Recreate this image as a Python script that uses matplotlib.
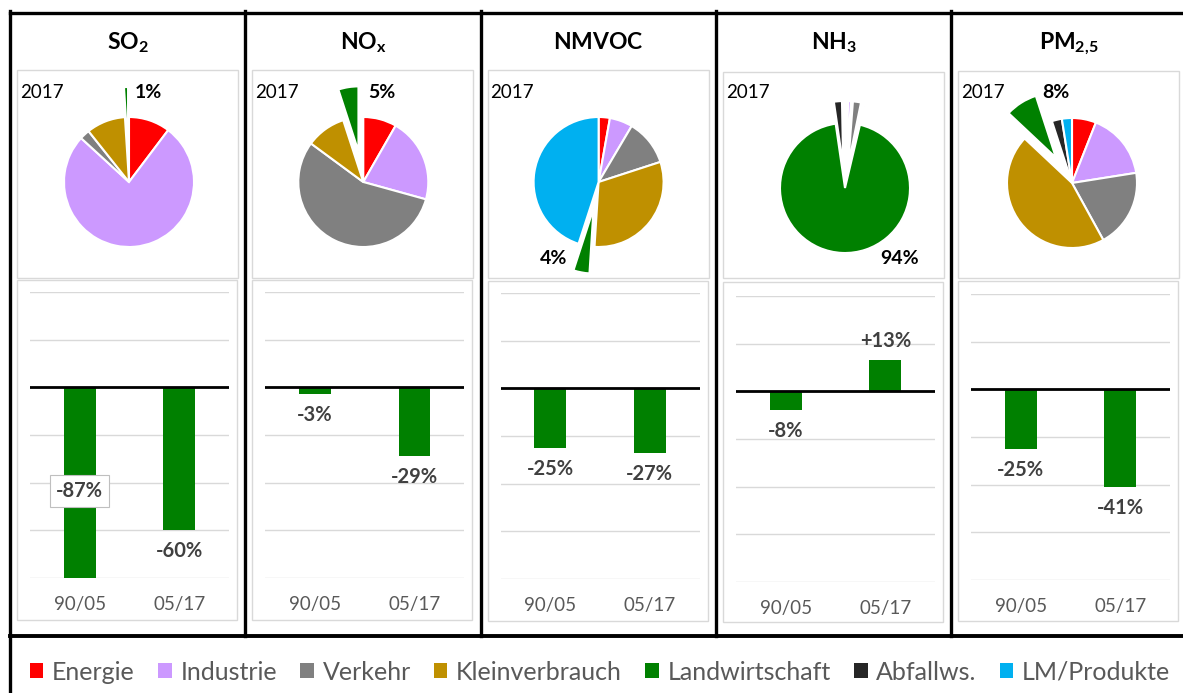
import matplotlib
matplotlib.use('Agg')
import matplotlib.pyplot as plt
from matplotlib.patches import Rectangle, Patch
from matplotlib.lines import Line2D

# ---------------- data ----------------
sectors = ['Energie', 'Industrie', 'Verkehr', 'Kleinverbrauch',
           'Landwirtschaft', 'Abfallws.', 'LM/Produkte']
pollutants = ['SO2', 'NOx', 'NMVOC', 'NH3', 'PM2,5']
pie_year = '2017'

share_so2 = [10.3, 76.5, 2.5, 9.7, 1.0, 0.0, 0.0]
share_nox = [8.3, 21.0, 55.8, 9.9, 5.0, 0.0, 0.0]
share_nmvoc = [2.8, 5.7, 11.5, 31.0, 4.0, 0.0, 45.0]
share_nh3 = [0.5, 0.7, 2.0, 0.5, 94.0, 2.0, 0.3]
share_pm25 = [6.0, 16.5, 19.5, 45.0, 8.0, 2.5, 2.5]

periods = ['90/05', '05/17']
change_so2 = [-87, -60]
change_nox = [-3, -29]
change_nmvoc = [-25, -27]
change_nh3 = [-8, 13]
change_pm25 = [-25, -41]

shares = [share_so2, share_nox, share_nmvoc, share_nh3, share_pm25]
changes = [change_so2, change_nox, change_nmvoc, change_nh3, change_pm25]

# ---------------- style ----------------
W, H, DPI = 1183, 693, 100
sector_colors = ['#FF0000', '#CC99FF', '#808080', '#BF9000',
                 '#008000', '#262626', '#00B0F0']
bar_color = '#008000'
box_color = '#D9D9D9'
titles = [r'$\mathbf{SO_2}$', r'$\mathbf{NO_x}$', r'$\mathbf{NMVOC}$',
          r'$\mathbf{NH_3}$', r'$\mathbf{PM_{2{,}5}}$']

plt.rcParams['font.family'] = ['Lato', 'DejaVu Sans']
plt.rcParams['mathtext.fontset'] = 'custom'
plt.rcParams['mathtext.rm'] = 'Lato'
plt.rcParams['mathtext.bf'] = 'Lato:bold'
plt.rcParams['mathtext.it'] = 'Lato:italic'

# layout (pixels, origin top-left)
panel_left = [10, 245.3, 480.6, 716, 951]
panel_w = 235.3
panel_dy = [0, 0, 1, 4, 2]
pie_cx_off = [119, 118, 118, 129, 121]
pie_cy = [182, 182, 182, 188, 183]
pie_r = 65
explode_main = [30, 31, 27, 0, 30]
explode_small_nh3 = 22
pie_label_off = [(19, 90), (19, 90), (-45, -77), (55, -70), (-16, 90)]

fig = plt.figure(figsize=(W / DPI, H / DPI), dpi=DPI)
fig.patch.set_facecolor('white')


def fig_rect(x0, y0, x1, y1):
    return [x0 / W, 1 - y1 / H, (x1 - x0) / W, (y1 - y0) / H]


def fig_line(x0, y0, x1, y1, **kw):
    fig.add_artist(Line2D([x0 / W, x1 / W], [1 - y0 / H, 1 - y1 / H],
                          transform=fig.transFigure, **kw))


def fig_box(x0, y0, x1, y1, **kw):
    fig.add_artist(Rectangle((x0 / W, 1 - y1 / H), (x1 - x0) / W,
                             (y1 - y0) / H, transform=fig.transFigure,
                             fill=False, **kw))


for i in range(5):
    L = panel_left[i]
    dy = panel_dy[i]
    # title
    fig.text((L + panel_w / 2) / W, 1 - 49 / H, titles[i], ha='center',
             va='baseline', fontsize=16.5, color='black')

    # ---- pie ----
    bx0, by0, bx1, by1 = L + 7, 70 + dy / 2, L + 228, 278
    fig_box(bx0, by0, bx1, by1, ec=box_color, lw=1)
    ax = fig.add_axes(fig_rect(bx0, by0, bx1, by1))
    bw, bh = bx1 - bx0, by1 - by0
    cx = L + pie_cx_off[i] - bx0
    cy = by1 - pie_cy[i]
    vals = shares[i]
    keep = [k for k, v in enumerate(vals) if v > 0]
    v_k = [vals[k] for k in keep]
    c_k = [sector_colors[k] for k in keep]
    if i == 3:
        e_k = [0 if sectors[k] == 'Landwirtschaft' else explode_small_nh3
               for k in keep]
    else:
        e_k = [explode_main[i] if sectors[k] == 'Landwirtschaft' else 0
               for k in keep]
    ax.pie(v_k, colors=c_k, explode=e_k, startangle=90,
           counterclock=False, radius=pie_r, center=(cx, cy),
           wedgeprops=dict(edgecolor='white', linewidth=1.5))
    ax.set_aspect('auto')
    ax.set_xlim(0, bw)
    ax.set_ylim(0, bh)
    ax.set_axis_off()
    ax.text(3, bh - (98 - by0), pie_year, ha='left', va='baseline',
            fontsize=13.5, color='black')
    lw_val = vals[sectors.index('Landwirtschaft')]
    ox, oy = pie_label_off[i]
    ax.text(cx + ox, cy + oy, f'{lw_val:.0f}%', ha='center', va='center',
            fontsize=14, fontweight='bold', color='black')

    # ---- bars ----
    fig_box(L + 7, 280 + dy / 2, L + 227, 620 + dy / 2, ec=box_color, lw=1)
    bax = fig.add_axes(fig_rect(L + 20, 292 + dy, L + 219, 578 + dy))
    xs = list(range(len(periods)))
    bax.bar(xs, changes[i], width=0.32, color=bar_color, zorder=2)
    bax.set_xlim(-0.5, 1.5)
    bax.set_ylim(-80, 40)
    bax.set_yticks(range(-80, 41, 20))
    bax.yaxis.grid(True, color=box_color, lw=1, zorder=0)
    bax.set_axisbelow(True)
    bax.axhline(0, color='black', lw=2, zorder=3)
    for s in bax.spines.values():
        s.set_visible(False)
    bax.tick_params(axis='y', length=0, labelleft=False)
    bax.set_xticks(xs)
    bax.set_xticklabels(periods)
    bax.tick_params(axis='x', length=0, pad=13, labelsize=13.5,
                    labelcolor='#595959')
    lo = bax.get_ylim()[0]
    for x, v in zip(xs, changes[i]):
        txt = f'+{v}%' if v > 0 else f'{v}%'
        if v < lo:
            bax.text(x, v / 2, txt, ha='center', va='center', fontsize=14.5,
                     fontweight='bold', color='#404040', zorder=5,
                     bbox=dict(boxstyle='square,pad=0.3', fc='white',
                               ec='#BFBFBF', lw=0.8))
        else:
            off = 14 if v > 0 else -15
            bax.annotate(txt, xy=(x, v), xytext=(0, off),
                         textcoords='offset points', ha='center',
                         va='center', fontsize=14.5, fontweight='bold',
                         color='#404040', zorder=5)

# ---- black frame lines ----
LW = 2.4
fig_line(10, 12.5, W, 12.5, color='black', lw=LW)
fig_line(10, 636, W, 636, color='black', lw=2.8)
fig_line(10, 11, 10, H, color='black', lw=LW)
for x in panel_left[1:]:
    fig_line(x, 11, x, 636, color='black', lw=LW)

# ---- legend ----
handles = [Patch(facecolor=c, edgecolor='none') for c in sector_colors]
fig.legend(handles, sectors, loc='center', bbox_to_anchor=(600 / W, 1 - 672 / H),
           ncol=7, frameon=False, fontsize=18, handlelength=0.55,
           handleheight=0.55, handletextpad=0.35, columnspacing=0.92,
           labelcolor='#595959', borderpad=0)

fig.savefig('out.png', dpi=DPI, facecolor='white')
